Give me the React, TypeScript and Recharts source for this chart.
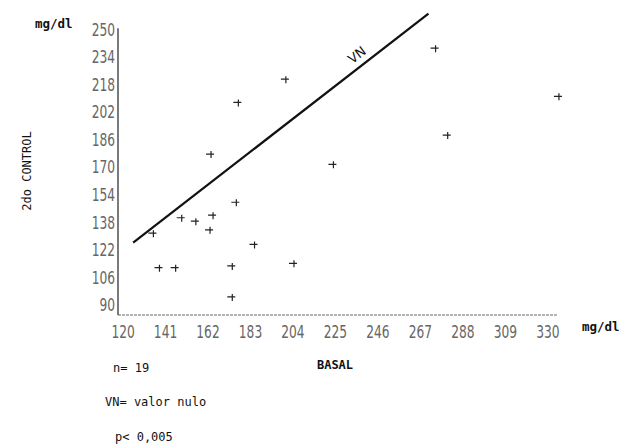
import React from 'react';
import { ScatterChart, Scatter, XAxis, YAxis, ReferenceLine } from 'recharts';

// basal vs 2do control, mg/dl
const basal = [176, 149, 156, 164.5, 163, 135, 185, 204.5, 138, 146, 174, 174, 200.5, 177, 163.5, 274.5, 335.5, 280.5, 224];
const control = [149.5, 140.5, 138.5, 142, 133.5, 131.5, 125, 114, 111.5, 111.5, 112.5, 94.5, 221, 207.5, 177.5, 239, 211, 188.5, 171.5];

// valor nulo line endpoints
const vnBasal = [125, 271];
const vnControl = [126, 259];

const xTicks = [120, 141, 162, 183, 204, 225, 246, 267, 288, 309, 330];
const yTicks = [90, 106, 122, 138, 154, 170, 186, 202, 218, 234, 250];

const points = basal.map((b, i) => ({ x: b, y: control[i] }));
const vnLine = vnBasal.map((b, i) => ({ x: b, y: vnControl[i] }));

const mono = "'DejaVu Sans Mono', 'Liberation Mono', monospace";

// narrow, tall digits like the old plotter font
function NarrowTick(props: any) {
  const { x, y, payload, orient } = props;
  const isY = orient === 'left';
  return (
    <g transform={`translate(${x},${y})`}>
      <text
        transform="scale(0.68,1)"
        textAnchor={isY ? 'end' : 'middle'}
        dy={isY ? '0.36em' : '0.72em'}
        fontFamily="'DejaVu Sans', sans-serif"
        fontSize={18}
        fill="#666"
      >
        {payload.value}
      </text>
    </g>
  );
}

function Plus(props: any) {
  const { cx, cy } = props;
  if (cx == null || cy == null) return <g />;
  return (
    <path
      d={`M${cx - 5},${cy} L${cx + 3},${cy} M${cx},${cy - 3} L${cx},${cy + 4}`}
      stroke="#222"
      strokeWidth={1.2}
      fill="none"
    />
  );
}

function NoDot() {
  return <g />;
}

export default function App() {
  return (
    <div style={{ position: 'absolute', left: 0, top: 0, width: 637, height: 446, background: '#fff' }}>
      <ScatterChart width={637} height={446} margin={{ top: 12, right: 73, bottom: 101, left: 0 }}>
        <XAxis
          type="number"
          dataKey="x"
          domain={[117.5, 338]}
          ticks={xTicks}
          axisLine={false}
          tickLine={false}
          tickSize={0}
          tickMargin={10}
          height={30}
          tick={<NarrowTick orient="bottom" />}
          interval={0}
        />
        <YAxis
          type="number"
          dataKey="y"
          domain={[84, 260]}
          ticks={yTicks}
          axisLine={false}
          tickLine={false}
          tickSize={0}
          tickMargin={3}
          width={118}
          tick={<NarrowTick orient="left" />}
          interval={0}
        />
        <ReferenceLine
          segment={[{ x: 117.5, y: 84 }, { x: 334.5, y: 84 }]}
          stroke="#666"
          strokeWidth={1}
          strokeDasharray="3 1"
        />
        <ReferenceLine
          segment={[{ x: 117.5, y: 84 }, { x: 117.5, y: 250.5 }]}
          stroke="#222"
          strokeWidth={1.2}
        />
        <Scatter
          data={vnLine}
          line={{ stroke: '#111', strokeWidth: 2.2 }}
          shape={NoDot}
          isAnimationActive={false}
        />
        <Scatter data={points} shape={Plus} isAnimationActive={false} />
      </ScatterChart>
      <svg
        width={637}
        height={446}
        style={{ position: 'absolute', left: 0, top: 0, pointerEvents: 'none' }}
      >
        <g fontFamily={mono} fill="#111">
          <text x={35} y={28} fontSize={12.5} fontWeight="bold">mg/dl</text>
          <text x={582} y={331} fontSize={12.5} fontWeight="bold">mg/dl</text>
          <text x={27} y={171} fontSize={12} textAnchor="middle" dominantBaseline="central" transform="rotate(-90 27 171)">
            2do CONTROL
          </text>
          <text x={335} y={369} fontSize={12} fontWeight="bold" textAnchor="middle">BASAL</text>
          <text x={113} y={372} fontSize={12}>n= 19</text>
          <text x={105} y={406} fontSize={12}>VN= valor nulo</text>
          <text x={115} y={441} fontSize={12}>p&lt; 0,005</text>
          <text x={357} y={55} fontSize={13} fontFamily="'DejaVu Sans', sans-serif" textAnchor="middle" dominantBaseline="central" transform="rotate(-37 357 55)">
            VN
          </text>
        </g>
      </svg>
    </div>
  );
}
